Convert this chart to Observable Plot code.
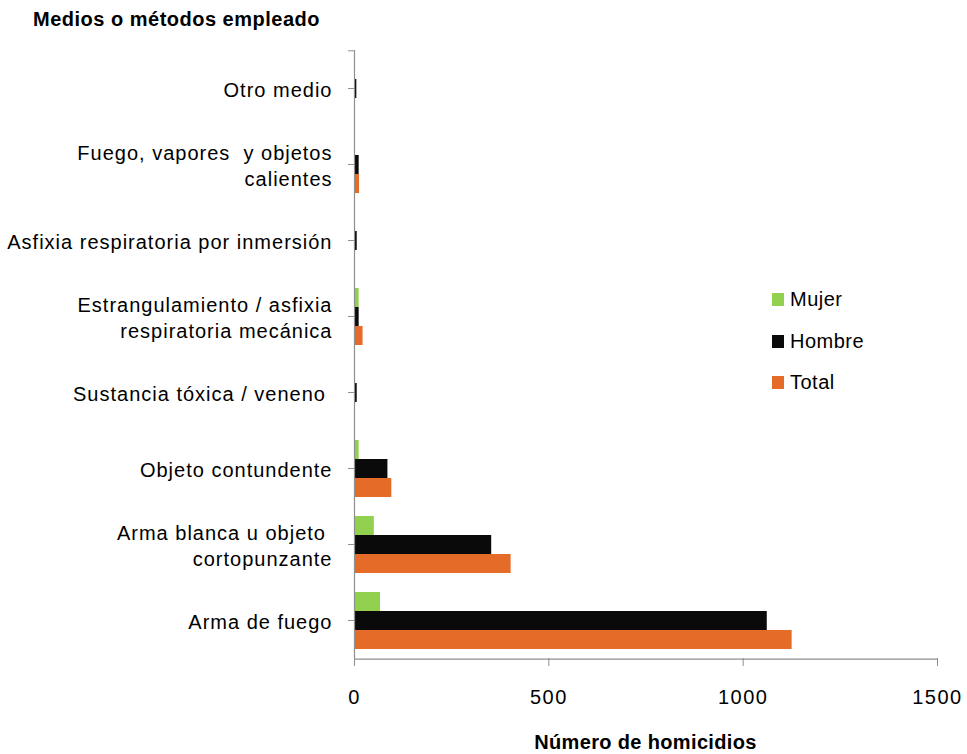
<!DOCTYPE html>
<html>
<head>
<meta charset="utf-8">
<script src="https://cdn.jsdelivr.net/npm/d3@7"></script>
<script src="https://cdn.jsdelivr.net/npm/@observablehq/plot@0.6"></script>
<style>
  html, body { margin: 0; padding: 0; background: #fff; }
  #wrap { position: relative; width: 967px; height: 754px; font-family: "Liberation Sans", Arial, sans-serif; }
  #title { position: absolute; left: 33px; top: 8px; font-weight: bold; font-size: 20px; letter-spacing: 0.5px; color: #000; white-space: nowrap; }
  #xlabel { position: absolute; left: 0; width: 1291px; text-align: center; top: 731px; font-weight: bold; font-size: 20px; letter-spacing: 0.35px; color: #000; white-space: nowrap; }
  .leg { position: absolute; left: 772px; font-size: 20px; letter-spacing: 0.5px; color: #000; white-space: nowrap; display: flex; align-items: center; }
  .leg span.sw { display: inline-block; width: 12px; height: 13px; margin-right: 6px; }
  #chart { position: absolute; left: 0; top: 0; }
  g[aria-label="text"] text { letter-spacing: 1px; }
  g[aria-label="x-axis tick label"] text { letter-spacing: 1.5px; }
</style>
</head>
<body>
<div id="wrap">
  <div id="chart"></div>
  <div id="title">Medios o métodos empleado</div>
  <div id="xlabel">Número de homicidios</div>
  <div id="legend"></div>
</div>
<script>
const categories = [
  "Otro medio",
  "Fuego, vapores y objetos calientes",
  "Asfixia respiratoria por inmersión",
  "Estrangulamiento / asfixia respiratoria mecánica",
  "Sustancia tóxica / veneno",
  "Objeto contundente",
  "Arma blanca u objeto cortopunzante",
  "Arma de fuego"
];
const categoryLabels = [
  "Otro medio",
  "Fuego, vapores  y objetos\ncalientes",
  "Asfixia respiratoria por inmersión",
  "Estrangulamiento / asfixia\nrespiratoria mecánica",
  "Sustancia tóxica / veneno ",
  "Objeto contundente",
  "Arma blanca u objeto \ncortopunzante",
  "Arma de fuego"
];
const series = ["Mujer", "Hombre", "Total"];
const seriesColors = ["#92D050", "#0A0A0A", "#E46C28"];
const mujer  = [0, 1, 1, 12, 1, 12, 51, 67];
const hombre = [6, 12, 7, 12, 7, 86, 353, 1062];
const total  = [2, 13, 2, 22, 2, 96, 403, 1126];
const xTicks = [0, 500, 1000, 1500];

const values = {Mujer: mujer, Hombre: hombre, Total: total};
const rows = categories.flatMap((c, i) => series.map(s => ({cat: c, serie: s, value: values[s][i]})));
const labelRows = categories.map((c, i) => ({cat: c, label: categoryLabels[i]}));

const axisColor = "#8f8f8f";
const halfBand = 614 / 8 / 4; // y band step (px) inside each facet

const chart = Plot.plot({
  width: 967,
  height: 754,
  marginLeft: 354,
  marginRight: 30,
  marginTop: 47,
  marginBottom: 93,
  style: {fontFamily: '"Liberation Sans", Arial, sans-serif', background: "#fff", color: "#000"},
  x: {domain: [0, 1500]},
  fy: {domain: categories, padding: 0},
  y: {domain: series, paddingInner: 0, paddingOuter: 0.5, axis: null},
  color: {domain: series, range: seriesColors},
  marks: [
    Plot.barX(rows, {fy: "cat", y: "serie", x: "value", fill: "serie"}),
    Plot.ruleX([0], {stroke: axisColor, strokeWidth: 1.2}),
    Plot.axisFy({anchor: "left", tickSize: 6, tickFormat: () => "", stroke: axisColor, label: null}),
    Plot.ruleY([{cat: categories[0]}], {fy: "cat", y: () => series[0], x1: -15.5, x2: 0, dy: -halfBand, stroke: axisColor}),
    Plot.ruleY([{cat: categories[categories.length - 1]}], {fy: "cat", y: () => series[2], x1: 0, x2: 1500, dy: halfBand, stroke: axisColor, strokeWidth: 1.2}),
    Plot.text(labelRows, {fy: "cat", text: "label", frameAnchor: "left", textAnchor: "end", dx: -22, lineHeight: 1.3, fontSize: 20, fill: "#000"}),
    Plot.axisX({ticks: xTicks, tickFormat: d => String(d), tickSize: 8, tickPadding: 23, fontSize: 20, stroke: axisColor, fill: "#000", label: null})
  ]
});
document.getElementById("chart").appendChild(chart);

const legend = document.getElementById("legend");
const legendTops = [288, 330, 371];
series.forEach((s, i) => {
  const d = document.createElement("div");
  d.className = "leg";
  d.style.top = legendTops[i] + "px";
  d.innerHTML = `<span class="sw" style="background:${seriesColors[i]}"></span><span>${s}</span>`;
  legend.appendChild(d);
});
</script>
</body>
</html>
